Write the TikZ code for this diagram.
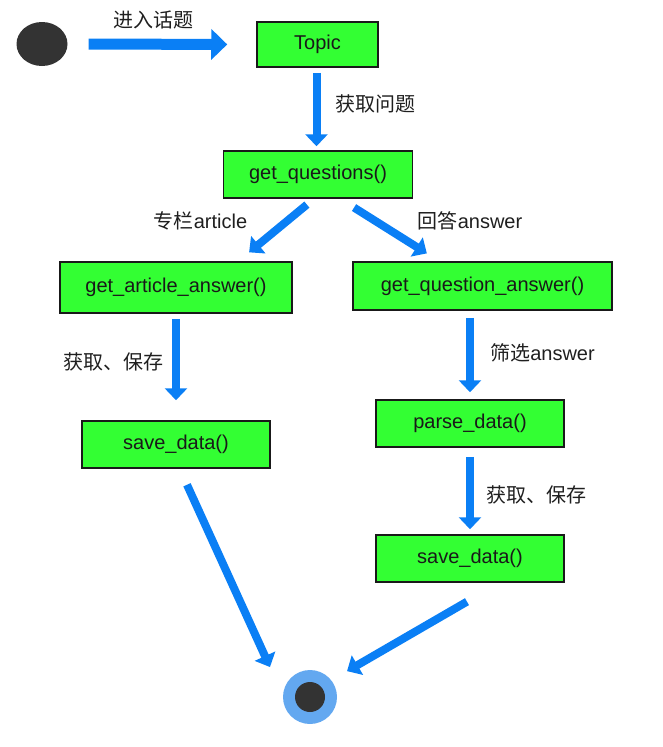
\documentclass[tikz,border=0pt]{standalone}
\usepackage{fontspec}
\setmainfont{Liberation Sans}
\newfontfamily\cjk{Noto Sans CJK SC}
\usetikzlibrary{arrows.meta,calc,shapes.geometric}
\definecolor{boxgreen}{HTML}{33FF33}
\definecolor{flowblue}{HTML}{0A7FF5}
\definecolor{ringblue}{HTML}{63A8F0}
\definecolor{darkdot}{HTML}{333333}
\begin{document}
\begin{tikzpicture}[x=1pt,y=-1pt,
  func/.style={draw=black!90,line width=1.5pt,fill=boxgreen,inner sep=0pt,
    font=\fontsize{20}{24}\selectfont,text=black!90},
  lbl/.style={font=\fontsize{20}{24}\selectfont,text=black!88,inner sep=0pt},
  arr/.style={draw=flowblue,line width=8pt,-{Triangle[width=22pt,length=12pt]}},
  bigarr/.style={draw=flowblue,line width=11pt,-{Triangle[width=30pt,length=16pt]}}]
\useasboundingbox (0,0) rectangle (663,747);
% nodes
\node[ellipse,fill=darkdot,minimum width=51pt,minimum height=44pt,inner sep=0pt] (start) at (42,44) {};
\node[func,minimum width=121pt,minimum height=45pt] (topic) at (317.5,44.5) {Topic};
\node[func,minimum width=189pt,minimum height=47pt] (gq) at (318,174.5) {get\_questions()};
\node[func,minimum width=232pt,minimum height=51pt] (gaa) at (176,287.5) {get\_article\_answer()};
\node[func,minimum width=259pt,minimum height=48pt] (gqa) at (482.5,286) {get\_question\_answer()};
\node[func,minimum width=188pt,minimum height=47pt] (sdl) at (176,444.5) {save\_data()};
\node[func,minimum width=188pt,minimum height=47pt] (parse) at (470,423.5) {parse\_data()};
\node[func,minimum width=188pt,minimum height=47pt] (sdr) at (470,558.5) {save\_data()};
\node[circle,fill=ringblue,minimum size=54pt,inner sep=0pt] (endring) at (310,697) {};
\node[circle,fill=darkdot,minimum size=30pt,inner sep=0pt] (enddot) at (endring.center) {};
% labels
\node[lbl] (l1) at (153.5,20) {\cjk 进入话题};
\node[lbl] (l2) at (375,104) {\cjk 获取问题};
\node[lbl] (l3) at (200.5,221) {{\cjk 专栏}article};
\node[lbl] (l4) at (470,221) {{\cjk 回答}answer};
\node[lbl] (l5) at (113,362) {\cjk 获取、保存};
\node[lbl] (l6) at (542.5,353) {{\cjk 筛选}answer};
\node[lbl] (l7) at (536.5,495) {\cjk 获取、保存};
% connectors
\draw[bigarr,shorten <=21pt,shorten >=29pt] (start.east) -- (topic.west);
\draw[arr,shorten <=5pt,shorten >=4pt] ([xshift=-1pt]topic.south) -- ([xshift=-1.5pt]gq.north);
\draw[arr,shorten <=9.2pt,shorten >=14pt] ($(gq.south)+(-4,0)$) -- ($(gaa.north)+(62.3,0)$);
\draw[arr,shorten <=16.6pt,shorten >=14.8pt] ($(gq.south)+(22,0)$) -- ($(gqa.north)+(-43.1,0)$);
\draw[arr,shorten <=5pt,shorten >=20pt] (gaa.south) -- (sdl.north);
\draw[arr,shorten <=7pt,shorten >=7pt] (gqa.south -| parse.north) -- (parse.north);
\draw[arr,shorten <=9pt,shorten >=5pt] (parse.south) -- (sdr.north);
\draw[arr,shorten <=17.6pt,shorten >=32.9pt] ($(sdl.south)+(3.7,0)$) -- ($(endring.center)+(-26.4,0)$);
\draw[arr,shorten <=37.7pt,shorten >=51.6pt] ($(sdr.south)+(29.6,0)$) -- ($(endring.center)+(-7.6,0)$);
\end{tikzpicture}
\end{document}
